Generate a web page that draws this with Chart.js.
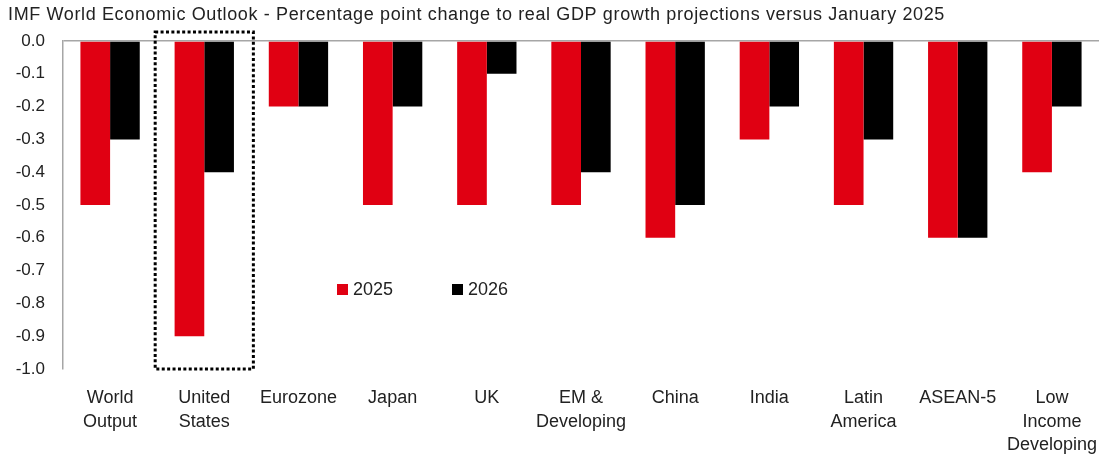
<!DOCTYPE html>
<html>
<head>
<meta charset="utf-8">
<script src="https://cdn.jsdelivr.net/npm/chart.js@4/dist/chart.umd.min.js"></script>
<style>
  html, body { margin: 0; padding: 0; background: #fff; }
  #wrap { position: relative; width: 1099px; height: 456px; }
  #legend { position: absolute; left: 337px; top: 279px; display: flex; font: 18px "Liberation Sans", Arial, sans-serif; color: #222; }
  #legend .item { display: flex; align-items: center; width: 115px; }
  #legend .sw { width: 11px; height: 11px; margin-right: 5px; }
</style>
</head>
<body>
<div id="wrap">
  <canvas id="chart" width="1099" height="456"></canvas>
  <div id="legend"></div>
</div>
<script>
// Data
const categories = [
  ['World', 'Output'], ['United', 'States'], 'Eurozone', 'Japan', 'UK',
  ['EM &', 'Developing'], 'China', 'India', ['Latin', 'America'], 'ASEAN-5',
  ['Low', 'Income', 'Developing']
];
const seriesNames = ['2025', '2026'];
const values2025 = [-0.5, -0.9, -0.2, -0.5, -0.5, -0.5, -0.6, -0.3, -0.5, -0.6, -0.4];
const values2026 = [-0.3, -0.4, -0.2, -0.2, -0.1, -0.4, -0.5, -0.2, -0.3, -0.6, -0.2];
const seriesColors = ['#e00012', '#000000'];
const highlightIndex = 1; // United States gets the dotted box
const titleText = 'IMF World Economic Outlook - Percentage point change to real GDP growth projections versus January 2025';

const FONT = '"Liberation Sans", Arial, sans-serif';
const TEXT = '#222';

// title drawn at top-left
const titlePlugin = {
  id: 'titleText',
  afterDraw(chart) {
    const ctx = chart.ctx;
    ctx.save();
    ctx.font = '18px ' + FONT;
    ctx.letterSpacing = '0.63px';
    ctx.fillStyle = TEXT;
    ctx.textBaseline = 'middle';
    ctx.fillText(titleText, 8, 15);
    ctx.restore();
  }
};

// dotted frame round the highlighted category
const boxPlugin = {
  id: 'dottedBox',
  afterDatasetsDraw(chart) {
    const x = chart.scales.x, y = chart.scales.y;
    const left = x.getPixelForValue(highlightIndex - 0.5) - 2;
    const right = x.getPixelForValue(highlightIndex + 0.5) + 2;
    const top = y.getPixelForValue(0) - 9;
    const bottom = y.getPixelForValue(-1);
    const ctx = chart.ctx;
    ctx.save();
    ctx.strokeStyle = '#000';
    ctx.lineWidth = 3;
    ctx.setLineDash([3, 2.4]);
    ctx.strokeRect(left, top, right - left, bottom - top);
    ctx.restore();
  }
};

new Chart(document.getElementById('chart'), {
  type: 'bar',
  data: {
    labels: categories,
    datasets: [
      { label: seriesNames[0], data: values2025, backgroundColor: seriesColors[0] },
      { label: seriesNames[1], data: values2026, backgroundColor: seriesColors[1] }
    ]
  },
  options: {
    responsive: false,
    animation: false,
    categoryPercentage: 0.63,
    barPercentage: 1.0,
    layout: { padding: { top: 41, right: 0, left: 0, bottom: 0 } },
    scales: {
      x: {
        grid: { display: false },
        border: { display: false },
        ticks: { color: TEXT, font: { family: FONT, size: 18, lineHeight: 1.28 }, padding: 10, maxRotation: 0, autoSkip: false },
        afterFit(scale) {
          scale.height = 87;
          scale.paddingLeft = 0;
          scale.paddingRight = 0;
        }
      },
      y: {
        min: -1, max: 0,
        ticks: {
          stepSize: 0.1,
          color: TEXT,
          font: { family: FONT, size: 17 },
          padding: 18,
          callback: v => (Math.abs(v) < 1e-9 ? 0 : v).toFixed(1)
        },
        grid: {
          drawTicks: false,
          color: ctx => (ctx.tick && Math.abs(ctx.tick.value) < 1e-9 ? '#a6a6a6' : 'rgba(0,0,0,0)'),
          lineWidth: 1.5
        },
        border: { display: true, color: '#a6a6a6', width: 1.5 },
        afterFit(scale) { scale.width = 63; }
      }
    },
    plugins: {
      legend: { display: false },
      title: { display: false },
      tooltip: { enabled: false }
    }
  },
  plugins: [titlePlugin, boxPlugin]
});

// legend built from the series
const legend = document.getElementById('legend');
seriesNames.forEach((name, i) => {
  const item = document.createElement('div');
  item.className = 'item';
  item.innerHTML = '<span class="sw" style="background:' + seriesColors[i] + '"></span>' + name;
  legend.appendChild(item);
});
</script>
</body>
</html>
